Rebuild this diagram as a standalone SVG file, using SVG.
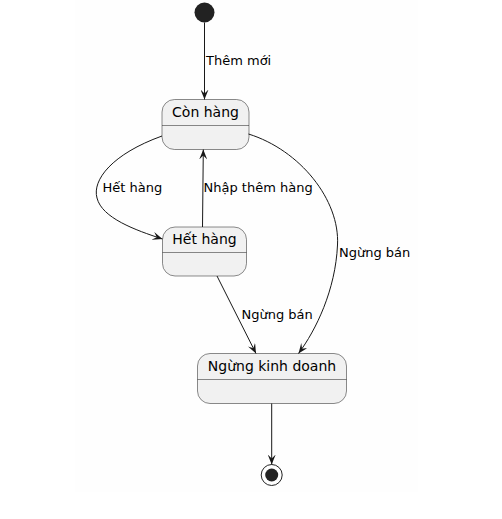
<svg xmlns="http://www.w3.org/2000/svg" width="502" height="519" viewBox="0 0 502 519">
<style>
.st{fill:#F1F1F1;stroke:#181818;stroke-width:0.5}
.dv{stroke:#181818;stroke-width:0.5}
.nm{font-family:"DejaVu Sans",sans-serif;font-size:14px;fill:#000;text-anchor:middle}
.lb{font-family:"DejaVu Sans",sans-serif;font-size:13px;fill:#000}
.ln{fill:none;stroke:#181818;stroke-width:1}
</style>
<defs>
<marker id="ah" viewBox="0 0 10 8" refX="10" refY="4" markerWidth="10" markerHeight="8" markerUnits="userSpaceOnUse" orient="auto">
<path d="M0,0 L10,4 L0,8 L4,4 Z" fill="#181818"/>
</marker>
</defs>
<rect width="502" height="519" fill="#FFFFFF"/>
<rect x="75" y="0" width="343" height="492" fill="#FEFEFE"/>
<g id="start"><circle cx="204.5" cy="12.5" r="10" fill="#222222"/></g>
<g id="con-hang">
<rect class="st" x="162" y="99.5" width="87" height="50" rx="12.5" ry="12.5"/>
<line class="dv" x1="162" y1="125.5" x2="249" y2="125.5"/>
<text class="nm" x="205.5" y="117">Còn hàng</text>
</g>
<g id="het-hang">
<rect class="st" x="162.5" y="227" width="84" height="49" rx="12.5" ry="12.5"/>
<line class="dv" x1="162.5" y1="252.5" x2="246.5" y2="252.5"/>
<text class="nm" x="204.5" y="244">Hết hàng</text>
</g>
<g id="ngung-kinh-doanh">
<rect class="st" x="197.5" y="353.5" width="149" height="50" rx="12.5" ry="12.5"/>
<line class="dv" x1="197.5" y1="379.5" x2="346.5" y2="379.5"/>
<text class="nm" x="272" y="371">Ngừng kinh doanh</text>
</g>
<g id="end">
<circle cx="271.7" cy="475" r="10.5" fill="none" stroke="#222222" stroke-width="1"/>
<circle cx="271.7" cy="475" r="6.5" fill="#222222"/>
</g>
<g id="connectors">
<path class="ln" d="M204.5,22.5 L204.5,99.5" marker-end="url(#ah)"/>
<path class="ln" d="M162,136 C112,154 92,180 97,198 C102,218 135,230 162.5,239" marker-end="url(#ah)"/>
<path class="ln" d="M202.5,227 L203.3,149.5" marker-end="url(#ah)"/>
<path class="ln" d="M248.5,134 C300,150 340,200 337.5,245 C335.5,290 316,330 298.5,353.5" marker-end="url(#ah)"/>
<path class="ln" d="M217,276 L256,353.5" marker-end="url(#ah)"/>
<path class="ln" d="M271.7,403.5 L271.7,464.5" marker-end="url(#ah)"/>
<text class="lb" x="206" y="65">Thêm mới</text>
<text class="lb" x="102.5" y="192">Hết hàng</text>
<text class="lb" x="203.5" y="192">Nhập thêm hàng</text>
<text class="lb" x="339" y="257">Ngừng bán</text>
<text class="lb" x="241.5" y="319">Ngừng bán</text>
</g>
</svg>
